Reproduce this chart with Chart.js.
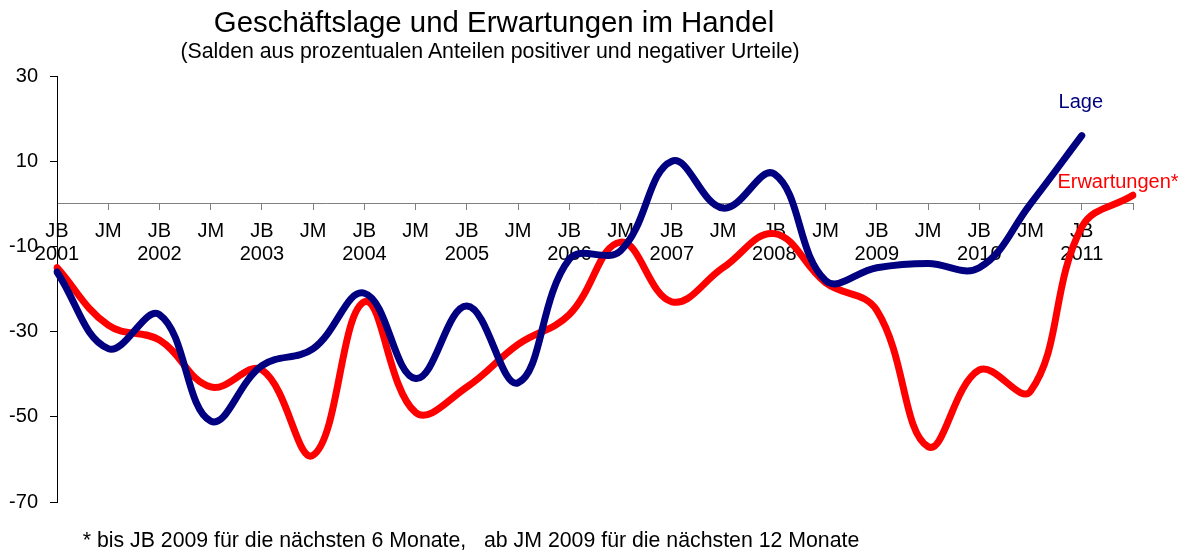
<!DOCTYPE html>
<html>
<head>
<meta charset="utf-8">
<script src="https://cdn.jsdelivr.net/npm/chart.js@4.4.1/dist/chart.umd.min.js"></script>
<style>
  html, body { margin: 0; padding: 0; background: #fff; }
  #wrap { position: relative; width: 1186px; height: 554px; font-family: "Liberation Sans", Arial, sans-serif; color: #000; }
  canvas { position: absolute; left: 0; top: 0; }
  .txt { position: absolute; white-space: pre; line-height: 1; transform: translate(-50%, -50%); }
  #title { left: 494px; top: 22px; font-size: 29.4px; }
  #subtitle { left: 490px; top: 52px; font-size: 21.3px; }
  #foot { left: 471px; top: 541px; font-size: 21.3px; }
</style>
</head>
<body>
<div id="wrap">
  <canvas id="c" width="1186" height="554"></canvas>
  <div class="txt" id="title">Geschäftslage und Erwartungen im Handel</div>
  <div class="txt" id="subtitle">(Salden aus prozentualen Anteilen positiver und negativer Urteile)</div>
  <div class="txt" id="foot">* bis JB 2009 für die nächsten 6 Monate,   ab JM 2009 für die nächsten 12 Monate</div>
</div>
<script>
// Categories: half-year survey waves (JB = Jahresbeginn, JM = Jahresmitte)
const halfYears = ['JB','JM','JB','JM','JB','JM','JB','JM','JB','JM','JB','JM','JB','JM','JB','JM','JB','JM','JB','JM','JB',''];
const years     = ['2001','','2002','','2003','','2004','','2005','','2006','','2007','','2008','','2009','','2010','','2011',''];

// Series values (balances in %)
const lage        = [-16, -34, -26, -51, -38, -34, -21, -41, -24, -42, -13, -11, 10, -1, 7, -18, -15, -14, -15, 0, 16, null];
const erwartungen = [-15, -28.5, -32, -43, -39, -59, -23, -49, -43, -33, -26, -9, -23, -15, -7, -18.5, -25, -57, -39, -44, -5.5, 2];

// Y-axis ticks
const yTicks = [30, 10, -10, -30, -50, -70];

const seriesNames = ['Lage', 'Erwartungen*'];
const seriesColors = ['#000080', '#FF0000'];

const labels = halfYears.map((h, i) => [h, years[i]]);

const FONT = "'Liberation Sans', Arial, sans-serif";

const seriesLabelPlugin = {
  id: 'seriesLabels',
  afterDatasetsDraw(chart) {
    const ctx = chart.ctx;
    const xs = chart.scales.x, ys = chart.scales.y;
    ctx.save();
    ctx.font = '20px ' + FONT;
    ctx.textAlign = 'center';
    ctx.textBaseline = 'middle';
    ctx.fillStyle = seriesColors[0];
    ctx.fillText(chart.data.datasets[0].label, xs.getPixelForValue(20) - 1, ys.getPixelForValue(0) - 101);
    ctx.fillStyle = seriesColors[1];
    ctx.fillText(chart.data.datasets[1].label, xs.getPixelForValue(21) - 15, ys.getPixelForValue(0) - 21);
    ctx.restore();
  }
};

new Chart(document.getElementById('c'), {
  type: 'line',
  data: {
    labels: labels,
    datasets: [
      { label: seriesNames[0], data: lage, borderColor: seriesColors[0], backgroundColor: seriesColors[0],
        borderWidth: 7, tension: 0.4, pointRadius: 0, borderCapStyle: 'round', borderJoinStyle: 'round', fill: false, spanGaps: false },
      { label: seriesNames[1], data: erwartungen, borderColor: seriesColors[1], backgroundColor: seriesColors[1],
        borderWidth: 7, tension: 0.4, pointRadius: 0, borderCapStyle: 'round', borderJoinStyle: 'round', fill: false }
    ]
  },
  options: {
    responsive: false,
    animation: false,
    devicePixelRatio: 1,
    layout: { padding: { top: 76, left: 0, right: 53, bottom: 52 } },
    plugins: {
      legend: { display: false },
      tooltip: { enabled: false },
      title: { display: false }
    },
    scales: {
      x: {
        type: 'category',
        position: { y: 0 },
        offset: false,
        grid: { display: true, drawOnChartArea: false, drawTicks: true, tickLength: 6, color: '#808080', lineWidth: 1 },
        border: { display: true, color: '#808080', width: 1 },
        ticks: { autoSkip: false, maxRotation: 0, minRotation: 0, padding: 10, color: '#000',
                 font: { family: FONT, size: 20, lineHeight: 1.15 } }
      },
      y: {
        min: -70, max: 30,
        afterFit(s) { s.width = 57; },
        afterBuildTicks(s) { s.ticks = yTicks.map(v => ({ value: v })); },
        grid: { display: true, drawOnChartArea: false, drawTicks: true, tickLength: 7, color: '#000', lineWidth: 1 },
        border: { display: true, color: '#000', width: 1 },
        ticks: { padding: 12, color: '#000', font: { family: FONT, size: 20 } }
      }
    }
  },
  plugins: [seriesLabelPlugin]
});
</script>
</body>
</html>
